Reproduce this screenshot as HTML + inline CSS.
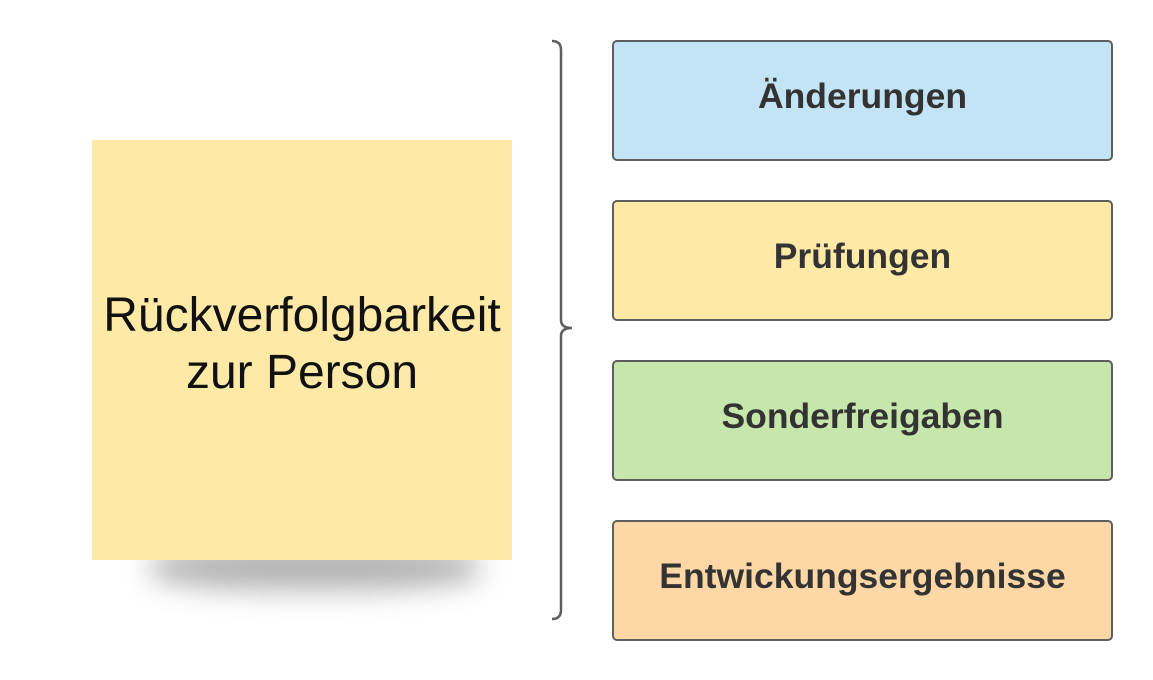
<!DOCTYPE html>
<html><head><style>
body{margin:0;width:1153px;height:680px;background:#fff;position:relative;overflow:hidden;font-family:"Liberation Sans",sans-serif}
.note{position:absolute;left:92px;top:140px;width:420px;height:420px;background:#feeaa6;z-index:2}
.nt{position:absolute;left:92px;top:287px;width:420px;text-align:center;font-size:48px;line-height:57px;color:#111;z-index:3}
.shadow{position:absolute;left:150px;top:545px;width:330px;height:45px;border-radius:40%;background:rgba(0,0,0,0.3);filter:blur(14px);z-index:1}
.box{position:absolute;left:612px;width:497px;height:117px;border:2px solid #5e5e5e;border-radius:5px;font-weight:bold;font-size:35.5px;color:#333;text-align:center;line-height:108px}
</style></head><body>
<div class="shadow"></div>
<div class="note"></div>
<div class="nt">Rückverfolgbarkeit<br>zur Person</div>
<svg style="position:absolute;left:0;top:0" width="1153" height="680">
<path d="M552 41 Q561 41 561 50 L561 320 Q561 328 572 328 Q561 328 561 336 L561 610 Q561 619 552 619" fill="none" stroke="#5e5e5e" stroke-width="2.5"/>
</svg>
<div class="box" style="top:40px;background:#c3e4f5">Änderungen</div>
<div class="box" style="top:200px;background:#feeaa6">Prüfungen</div>
<div class="box" style="top:360px;background:#c7e6ab">Sonderfreigaben</div>
<div class="box" style="top:520px;background:#fdd8a6">Entwickungsergebnisse</div>
</body></html>
